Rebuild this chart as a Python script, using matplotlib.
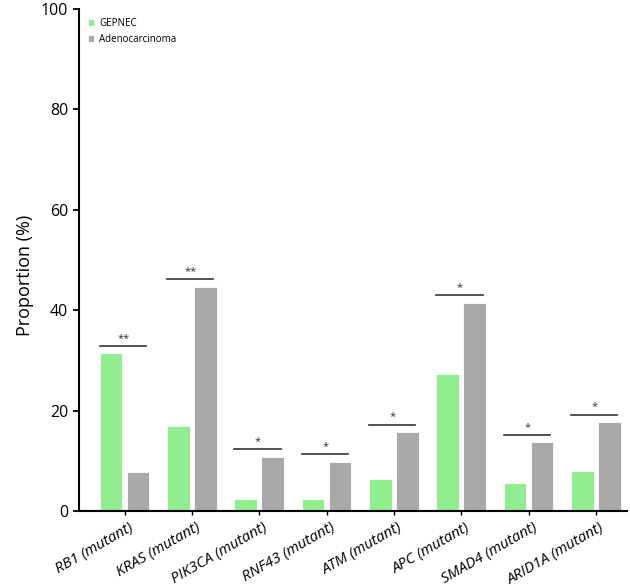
import numpy as np
import matplotlib
matplotlib.use("Agg")
import matplotlib.pyplot as plt
from matplotlib.transforms import ScaledTranslation

plt.rcParams["font.family"] = ["Open Sans", "DejaVu Sans"]

genes = ["RB1", "KRAS", "PIK3CA", "RNF43", "ATM", "APC", "SMAD4", "ARID1A"]
gepnec = [31.4, 16.9, 2.3, 2.3, 6.4, 27.3, 5.6, 8.0]
adeno = [7.8, 44.6, 10.8, 9.8, 15.7, 41.5, 13.7, 17.7]
stars = ["**", "**", "*", "*", "*", "*", "*", "*"]

GREEN = "#90ee90"
GRAY = "#a9a9a9"

fig = plt.figure(figsize=(6.3, 5.86), dpi=100)
ax = fig.add_axes([0.125, 0.128, 0.87, 0.857])

x = np.arange(len(genes))
w = 0.335
ax.bar(x - 0.2, gepnec, width=w, color=GREEN, edgecolor="white", linewidth=0.6, label="GEPNEC")
ax.bar(x + 0.2, adeno, width=w, color=GRAY, edgecolor="white", linewidth=0.6, label="Adenocarcinoma")

# Signifikanslinjer med stjerner over hvert par
for xi, g, a, s in zip(x, gepnec, adeno, stars):
    top = max(g, a) + 1.5
    ax.plot([xi - 0.37, xi + 0.32], [top, top], color="#333333", lw=1.2)
    ax.text(xi - 0.02, top + 0.4, s, ha="center", va="bottom", fontsize=8, color="#333333")

ax.set_xlim(-0.68, 7.46)
ax.set_ylim(0, 100)
ax.set_yticks([0, 20, 40, 60, 80, 100])
ax.tick_params(axis="y", labelsize=11.5, width=1.3, length=4)
ax.tick_params(axis="x", width=1.0, length=3)
ax.set_xticks(x)
ax.set_xticklabels([f"{g} (mutant)" for g in genes], rotation=30, ha="right",
                   fontsize=10.8, style="italic")
offset = ScaledTranslation(11 / 100, 0, fig.dpi_scale_trans)
for lbl in ax.get_xticklabels():
    lbl.set_transform(lbl.get_transform() + offset)
ax.set_ylabel("Proportion (%)", fontsize=13)
ax.yaxis.set_label_coords(-0.082, 0.47)

for side in ["top", "right"]:
    ax.spines[side].set_visible(False)
ax.spines["left"].set_linewidth(1.5)
ax.spines["bottom"].set_linewidth(1.5)

ax.legend(loc="upper left", bbox_to_anchor=(0.0, 1.0), frameon=False, fontsize=7,
          handlelength=0.7, handleheight=0.7, handletextpad=0.5, labelspacing=0.55)

fig.savefig("out.png", dpi=100)
